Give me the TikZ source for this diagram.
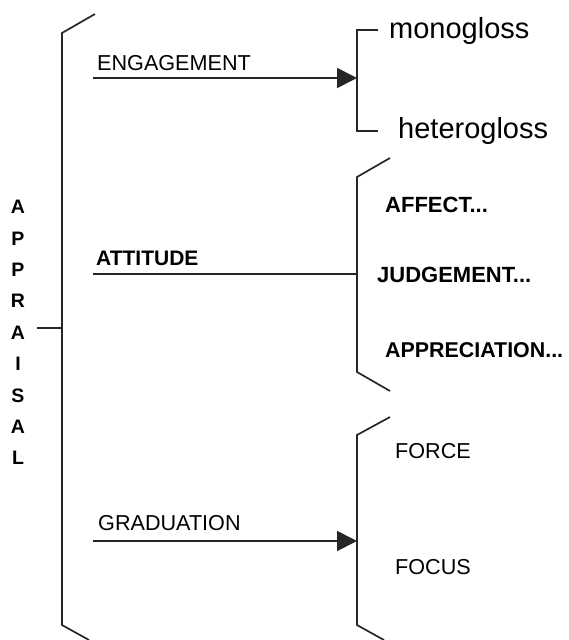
\documentclass[tikz,border=0pt]{standalone}
\usepackage{fontspec}
\setmainfont{Liberation Sans}
\usetikzlibrary{arrows.meta}
\begin{document}
\begin{tikzpicture}[x=1pt,y=-1pt,
  rule/.style={line width=1.7pt, draw=black!85, line join=miter},
  feat/.style={inner sep=0pt, anchor=base west, font=\fontsize{21.6}{22}\selectfont},
  featb/.style={inner sep=0pt, anchor=base west, font=\fontsize{22}{22}\selectfont\bfseries},
  gloss/.style={inner sep=0pt, anchor=base west, font=\fontsize{29}{29}\selectfont},
  letter/.style={inner sep=0pt, font=\fontsize{19.5}{20}\selectfont\bfseries},
  tip/.style={-{Triangle[length=20pt,width=20pt]}}]
\useasboundingbox (0,0) rectangle (568,640);
\clip (0,0) rectangle (568,640);

% vertical APPRAISAL label
\foreach \l [count=\i from 0] in {A,P,P,R,A,I,S,A,L}
  \node[letter] (ap\i) at (18,{207+31.4*\i}) {\l};

% main bracket
\draw[rule] (95,14) -- (62,33) -- (62,625) -- (89,640);
\coordinate (mainmid) at (62,328);
\coordinate (stub) at (37,328);
\draw[rule] (stub) -- (mainmid);

% ENGAGEMENT system
\node[feat] (eng) at (97,70) {ENGAGEMENT};
\coordinate (engL) at (93,78);
\coordinate (engR) at (357,78);
\draw[rule,tip] (engL) -- (engR);
\draw[rule] (378,30) -- (357,30) -- (357,131) -- (378,131);
\node[gloss] (mono) at (389,38) {monogloss};
\node[gloss] (hetero) at (398,138) {heterogloss};

% ATTITUDE system
\node[featb, font=\fontsize{21}{21}\selectfont\bfseries] (att) at (96,265) {ATTITUDE};
\coordinate (attL) at (93,274);
\coordinate (attR) at (357,274);
\draw[rule] (attL) -- (attR);
\draw[rule] (390,158) -- (357,177) -- (357,372) -- (390,391);
\node[featb] (affect) at (385,212) {AFFECT...};
\node[featb] (judge) at (377,282) {JUDGEMENT...};
\node[featb, font=\fontsize{21.4}{22}\selectfont\bfseries] (apprec) at (385,357) {APPRECIATION...};

% GRADUATION system
\node[feat] (grad) at (98,530) {GRADUATION};
\coordinate (gradL) at (93,541);
\coordinate (gradR) at (357,541);
\draw[rule,tip] (gradL) -- (gradR);
\draw[rule] (390,417) -- (357,435) -- (357,625) -- (384,640);
\node[feat] (force) at (395,458) {FORCE};
\node[feat] (focus) at (395,574) {FOCUS};
\end{tikzpicture}
\end{document}
